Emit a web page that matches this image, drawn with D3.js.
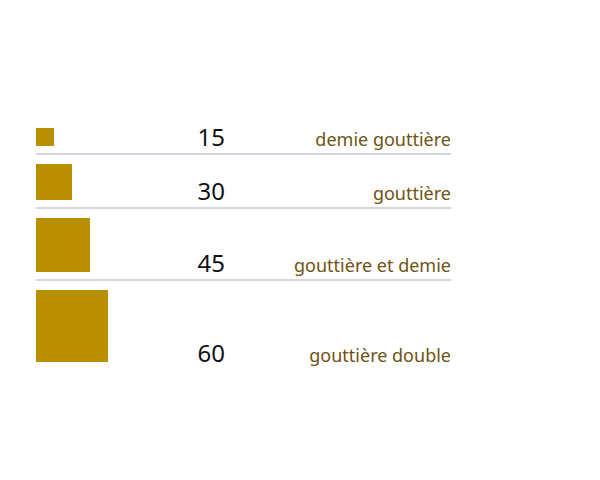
<!DOCTYPE html>
<html>
<head>
<meta charset="utf-8">
<script src="https://cdn.jsdelivr.net/npm/d3@7"></script>
<style>
  body { margin: 0; background: #fff; }
  svg { display: block; font-family: "Noto Sans", "Open Sans", sans-serif; }
</style>
</head>
<body>
<div id="chart"></div>
<script>
var labels = ["demie gouttière", "gouttière", "gouttière et demie", "gouttière double"];
var values = [15, 30, 45, 60];

var width = 600,
    height = 480,
    margin = {top: 128, left: 36, right: 149},
    gapBelow = 8,
    gapAbove = 10;

var size = d3.scaleLinear().domain([0, 60]).range([0, 72]);

var rows = [], y = margin.top;
values.forEach(function (v, i) {
    var s = size(v);
    rows.push({label: labels[i], value: v, y: y, side: s});
    y += s + gapBelow + gapAbove;
});

var svg = d3.select("#chart").append("svg")
    .attr("width", width)
    .attr("height", height);

var row = svg.selectAll("g.row")
    .data(rows)
    .enter().append("g")
    .attr("class", "row")
    .attr("transform", function (d) { return "translate(0," + d.y + ")"; });

row.append("rect")
    .attr("x", margin.left)
    .attr("y", 0)
    .attr("width", function (d) { return d.side; })
    .attr("height", function (d) { return d.side; })
    .attr("fill", "#b98f00");

row.append("text")
    .attr("x", 225)
    .attr("y", function (d) { return d.side; })
    .attr("text-anchor", "end")
    .attr("font-size", 24)
    .attr("fill", "#111")
    .text(function (d) { return d.value; });

row.append("text")
    .attr("x", width - margin.right)
    .attr("y", function (d) { return d.side; })
    .attr("text-anchor", "end")
    .attr("font-size", 18)
    .attr("fill", "#6e5312")
    .text(function (d) { return d.label; });

row.filter(function (d, i) { return i < rows.length - 1; })
    .append("line")
    .attr("x1", margin.left)
    .attr("x2", width - margin.right)
    .attr("y1", function (d) { return d.side + gapBelow; })
    .attr("y2", function (d) { return d.side + gapBelow; })
    .attr("stroke", "#adadbd")
    .attr("stroke-width", 1.2);
</script>
</body>
</html>
